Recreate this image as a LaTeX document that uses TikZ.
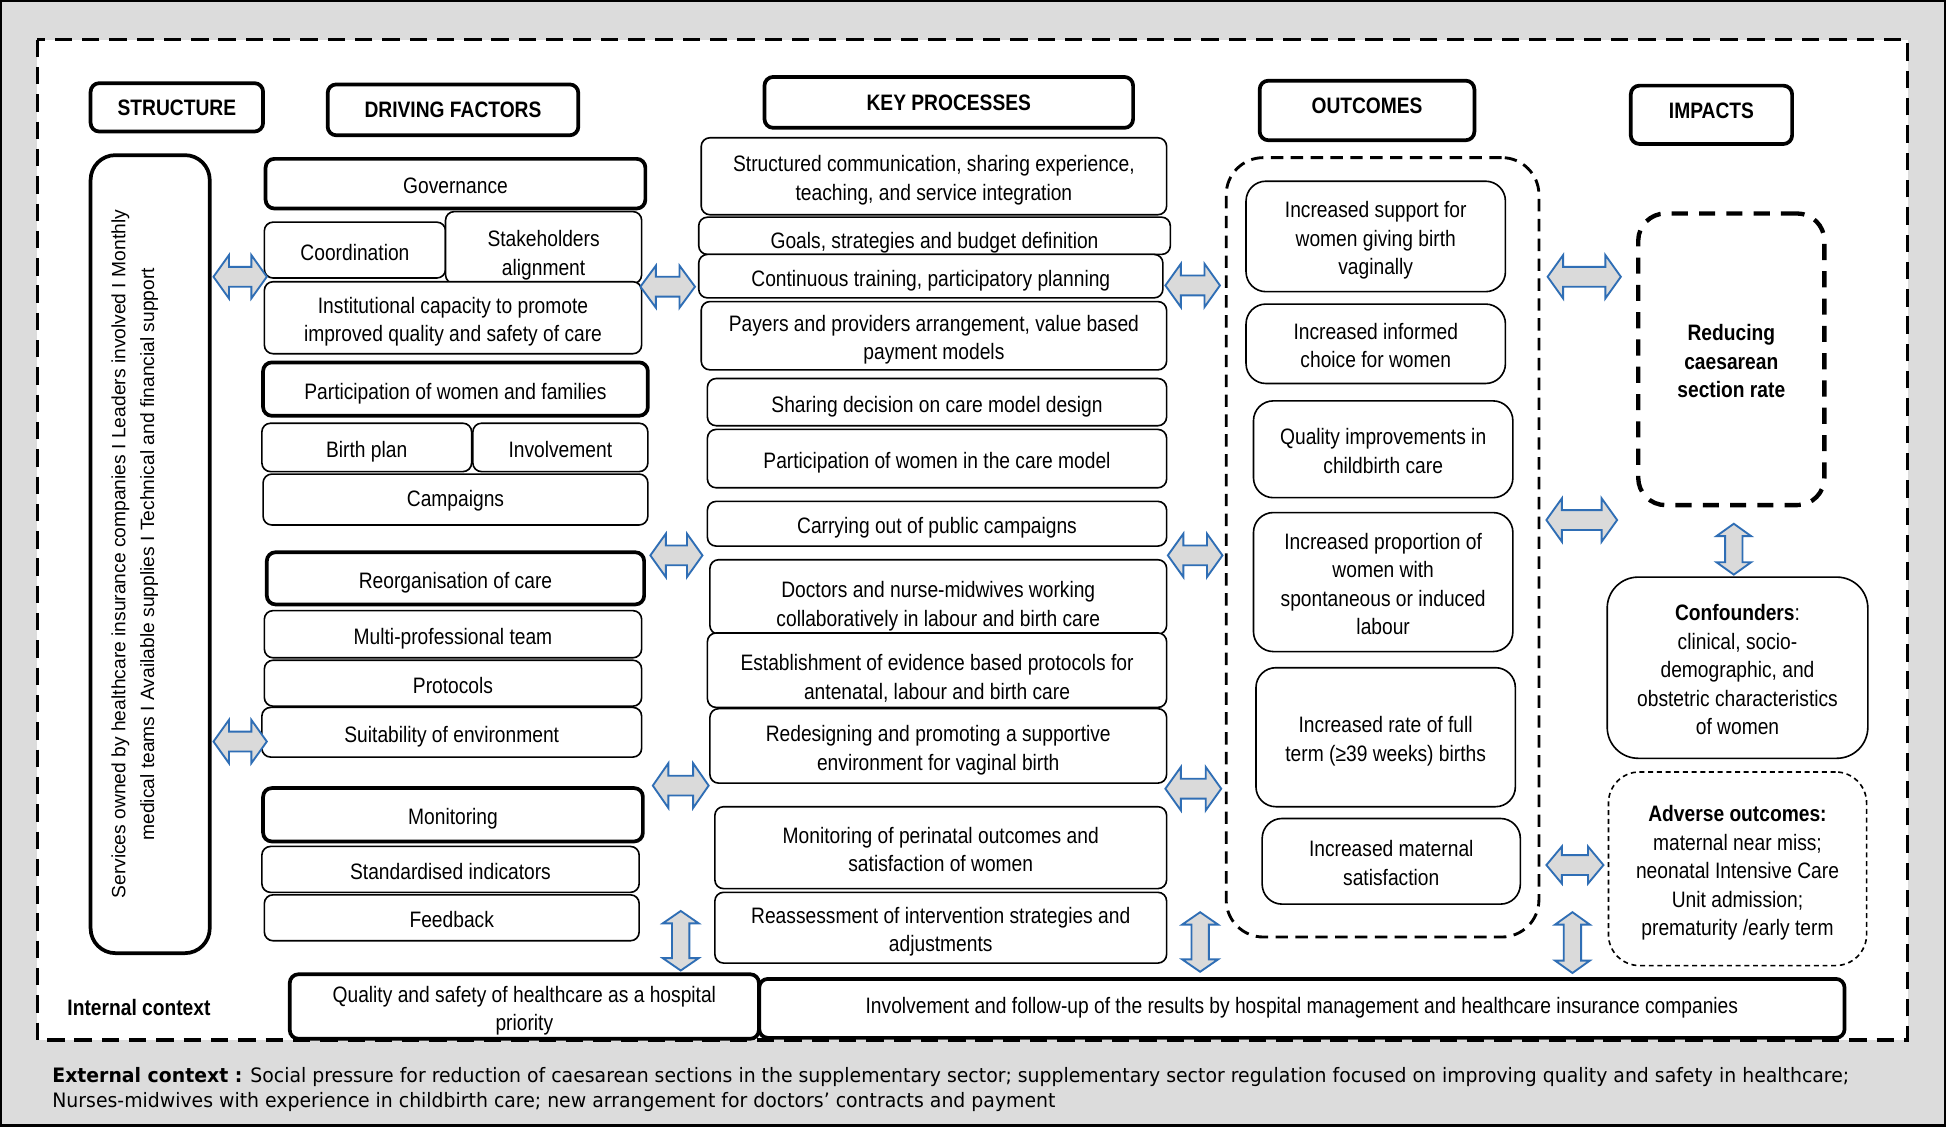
\documentclass[tikz,border=0pt]{standalone}
\usepackage{fontspec}
\setmainfont{Liberation Sans}[FakeStretch=0.86]
\newfontfamily\widefont{Liberation Sans}
\newfontfamily\extfont{DejaVu Sans}[FakeStretch=0.95]
\newcommand{\boxfont}{\fontsize{18}{23}\selectfont}
\definecolor{bggray}{HTML}{DCDCDC}
\definecolor{arrblue}{HTML}{2F6EB5}
\definecolor{arrfill}{HTML}{DADADA}
\newcommand{\harr}[4]{%
 \draw[arr] ({#1-#3},#2) -- ({#1-#3+12.5},{#2-#4}) -- ({#1-#3+12.5},{#2-8}) -- ({#1+#3-12.5},{#2-8}) -- ({#1+#3-12.5},{#2-#4}) -- ({#1+#3},#2) -- ({#1+#3-12.5},{#2+#4}) -- ({#1+#3-12.5},{#2+8}) -- ({#1-#3+12.5},{#2+8}) -- ({#1-#3+12.5},{#2+#4}) -- cycle;}
\newcommand{\varr}[4]{%
 \draw[arr] (#1,{#2-#3}) -- ({#1-#4},{#2-#3+10}) -- ({#1-7},{#2-#3+10}) -- ({#1-7},{#2+#3-10}) -- ({#1-#4},{#2+#3-10}) -- (#1,{#2+#3}) -- ({#1+#4},{#2+#3-10}) -- ({#1+7},{#2+#3-10}) -- ({#1+7},{#2-#3+10}) -- ({#1+#4},{#2-#3+10}) -- cycle;}
\begin{document}
\begin{tikzpicture}[x=1pt,y=-1pt,
  bx/.style={draw, fill=white, line width=1.3pt, rounded corners=7pt, align=center, inner sep=1pt, font=\boxfont,
    text height=21.5pt, text depth=5.5pt},
  l2/.style={text height=44.5pt},
  l3/.style={text height=67.5pt},
  l4/.style={text height=90.5pt},
  l5/.style={text height=113.5pt},
  tk/.style={bx, line width=3pt},
  hd/.style={draw, fill=white, line width=3pt, rounded corners=7pt, inner sep=1pt, font=\boxfont\bfseries},
  ob/.style={bx, rounded corners=16pt},
  arr/.style={draw=arrblue, fill=arrfill, line width=1.5pt, line join=miter}]
\useasboundingbox (0,0) rectangle (1568,908);
\fill[bggray] (0,0) rectangle (1568,908);
\draw[line width=2pt] (1,1) rectangle (1567,907);
\fill[white] (30,32) rectangle (1537,838);
\draw[line width=2.5pt, dash pattern=on 14pt off 8pt] (30,32) rectangle (1537,838);

% headers
\node[hd, minimum width=139pt, minimum height=39pt] (hstr) at (142.5,86.5) {STRUCTURE};
\node[hd, minimum width=202pt, minimum height=41pt] (hdf) at (365,88.5) {DRIVING FACTORS};
\node[hd, minimum width=297pt, minimum height=41pt] (hkp) at (764.5,82.5) {KEY PROCESSES};
\node[hd, minimum width=173pt, minimum height=48pt, text depth=7pt] (hout) at (1101.5,89) {OUTCOMES};
\node[hd, minimum width=130pt, minimum height=47pt, text depth=6pt] (himp) at (1379,92.5) {IMPACTS};

% structure column
\node[draw, fill=white, line width=3pt, align=center, rotate=90, rounded corners=20pt, minimum width=643pt, minimum height=96pt, text depth=28pt,
  font=\widefont\fontsize{15.5}{23}\selectfont] (str) at (121,446.5)
  {Services owned by healthcare insurance companies I Leaders involved I Monthly\\medical teams I Available supplies I Technical and financial support};

% driving factors
\node[tk, minimum width=306pt, minimum height=40pt] (gov) at (367,148) {Governance};
\node[bx, minimum width=146pt, minimum height=45pt] (coord) at (286,201.5) {Coordination};
\node[bx, l2, text height=50.5pt, minimum width=158pt, minimum height=55pt] (stake) at (438,199.5) {Stakeholders\\alignment};
\node[bx, l2, minimum width=304pt, minimum height=58pt] (inst) at (365,256) {Institutional capacity to promote\\improved quality and safety of care};
\node[tk, minimum width=310pt, minimum height=43pt] (part) at (367,313.5) {Participation of women and families};
\node[bx, minimum width=169pt, minimum height=39pt] (birth) at (295.5,360.5) {Birth plan};
\node[bx, minimum width=141pt, minimum height=39pt] (invol) at (451.5,360.5) {Involvement};
\node[bx, text depth=9.5pt, minimum width=310pt, minimum height=41pt] (camp) at (367,402.5) {Campaigns};
\node[tk, minimum width=304pt, minimum height=42pt] (reorg) at (367,466) {Reorganisation of care};
\node[bx, minimum width=304pt, minimum height=38pt] (multi) at (365,511) {Multi-professional team};
\node[bx, minimum width=304pt, minimum height=37pt] (proto) at (365,550.5) {Protocols};
\node[bx, minimum width=306pt, minimum height=40pt] (suit) at (364,590) {Suitability of environment};
\node[tk, minimum width=306pt, minimum height=43pt] (moni) at (365,656.5) {Monitoring};
\node[bx, minimum width=304pt, minimum height=37pt] (stdi) at (363,700.5) {Standardised indicators};
\node[bx, minimum width=302pt, minimum height=37pt] (feed) at (364,739.5) {Feedback};

% key processes
\node[bx, l2, minimum width=375pt, minimum height=62pt] (kp1) at (752.5,142) {Structured communication, sharing experience,\\teaching, and service integration};
\node[bx, minimum width=380pt, minimum height=30pt, text height=24pt, text depth=4pt] (kp2) at (753,190) {Goals, strategies and budget definition};
\node[bx, minimum width=374pt, minimum height=35pt] (kp3) at (750,222.5) {Continuous training, participatory planning};
\node[bx, l2, minimum width=375pt, minimum height=55pt] (kp4) at (752.5,270.5) {Payers and providers arrangement, value based\\payment models};
\node[bx, minimum width=370pt, minimum height=38pt] (kp5) at (755,324) {Sharing decision on care model design};
\node[bx, minimum width=370pt, minimum height=47pt] (kp6) at (755,369.5) {Participation of women in the care model};
\node[bx, minimum width=370pt, minimum height=36pt] (kp7) at (755,422) {Carrying out of public campaigns};
\node[bx, text height=52.5pt, minimum width=368pt, minimum height=58pt] (kp8) at (756,481) {Doctors and nurse-midwives working\\collaboratively in labour and birth care};
\node[bx, text height=52.5pt, minimum width=370pt, minimum height=54pt] (kp9) at (755,540) {Establishment of evidence based protocols for\\antenatal, labour and birth care};
\node[bx, l2, minimum width=368pt, minimum height=60pt] (kp10) at (756,601) {Redesigning and promoting a supportive\\environment for vaginal birth};
\node[bx, l2, minimum width=364pt, minimum height=66pt] (kp11) at (758,683) {Monitoring of perinatal outcomes and\\satisfaction of women};
\node[bx, l2, minimum width=364pt, minimum height=57pt] (kp12) at (758,747.5) {Reassessment of intervention strategies and\\adjustments};

% outcomes
\node[draw, line width=2.3pt, dash pattern=on 10pt off 6pt, rounded corners=30pt, minimum width=252pt, minimum height=628pt] (ocbox) at (1114,441) {};
\node[ob, l3, minimum width=209pt, minimum height=89pt] (oc1) at (1108.5,190.5) {Increased support for\\women giving birth\\vaginally};
\node[ob, l2, minimum width=209pt, minimum height=64pt] (oc2) at (1108.5,277) {Increased informed\\choice for women};
\node[ob, l2, minimum width=209pt, minimum height=78pt] (oc3) at (1114.5,362) {Quality improvements in\\childbirth care};
\node[ob, l4, minimum width=209pt, minimum height=112pt] (oc4) at (1114.5,469) {Increased proportion of\\women with\\spontaneous or induced\\labour};
\node[ob, l2, minimum width=209pt, minimum height=112pt] (oc5) at (1116.5,594) {Increased rate of full\\term (≥39 weeks) births};
\node[ob, l2, minimum width=208pt, minimum height=69pt] (oc6) at (1121,694) {Increased maternal\\satisfaction};

% impacts
\node[bx, l3, line width=3.5pt, dash pattern=on 13pt off 9pt, rounded corners=22pt, minimum width=150pt, minimum height=235pt, font=\boxfont\bfseries] (red) at (1395,289.5) {Reducing\\caesarean\\section rate};
\node[bx, l5, rounded corners=25pt, minimum width=210pt, minimum height=146pt] (conf) at (1400,538) {\textbf{Confounders}:\\clinical, socio-\\demographic, and\\obstetric characteristics\\of women};
\node[bx, l5, dash pattern=on 4pt off 3pt, rounded corners=25pt, minimum width=208pt, minimum height=156pt] (adv) at (1400,700) {\textbf{Adverse outcomes:}\\maternal near miss;\\neonatal Intensive Care\\Unit admission;\\prematurity /early term};

% bottom
\node[font=\boxfont\bfseries, inner sep=0pt] (intc) at (112,812) {Internal context};
\node[tk, l2, minimum width=378pt, minimum height=49pt] (qual) at (422.5,811) {Quality and safety of healthcare as a hospital\\priority};
\node[tk, text depth=13.5pt, minimum width=874.5pt, minimum height=47.5pt] (invf) at (1049,812.5) {Involvement and follow-up of the results by hospital management and healthcare insurance companies};

\node[anchor=north west, align=left, inner sep=0pt, font=\extfont\fontsize{16}{20}\selectfont] (ext) at (42,860)
 {\textbf{External context :} Social pressure for reduction of caesarean sections in the supplementary sector; supplementary sector regulation focused on improving quality and safety in healthcare;\\Nurses-midwives with experience in childbirth care; new arrangement for doctors’ contracts and payment};

% block arrows
\harr{193.5}{223}{21.5}{17.5}
\harr{538}{231}{22}{17}
\harr{961}{230}{22}{17.5}
\harr{1276.5}{223}{29.5}{17.5}
\harr{545}{447.5}{21}{17.5}
\harr{963}{447.5}{22}{17.5}
\harr{1274.5}{419}{28.5}{17.5}
\harr{193.5}{597.5}{21.5}{17.5}
\harr{548.5}{633}{22.5}{18}
\harr{961.5}{635.5}{22.5}{17.5}
\harr{1269}{697}{23}{15}
\varr{548.5}{758}{24}{14.5}
\varr{967}{759}{24}{14.5}
\varr{1267}{759.5}{24.5}{14}
\varr{1397}{442.5}{20.5}{14}
\end{tikzpicture}
\end{document}
